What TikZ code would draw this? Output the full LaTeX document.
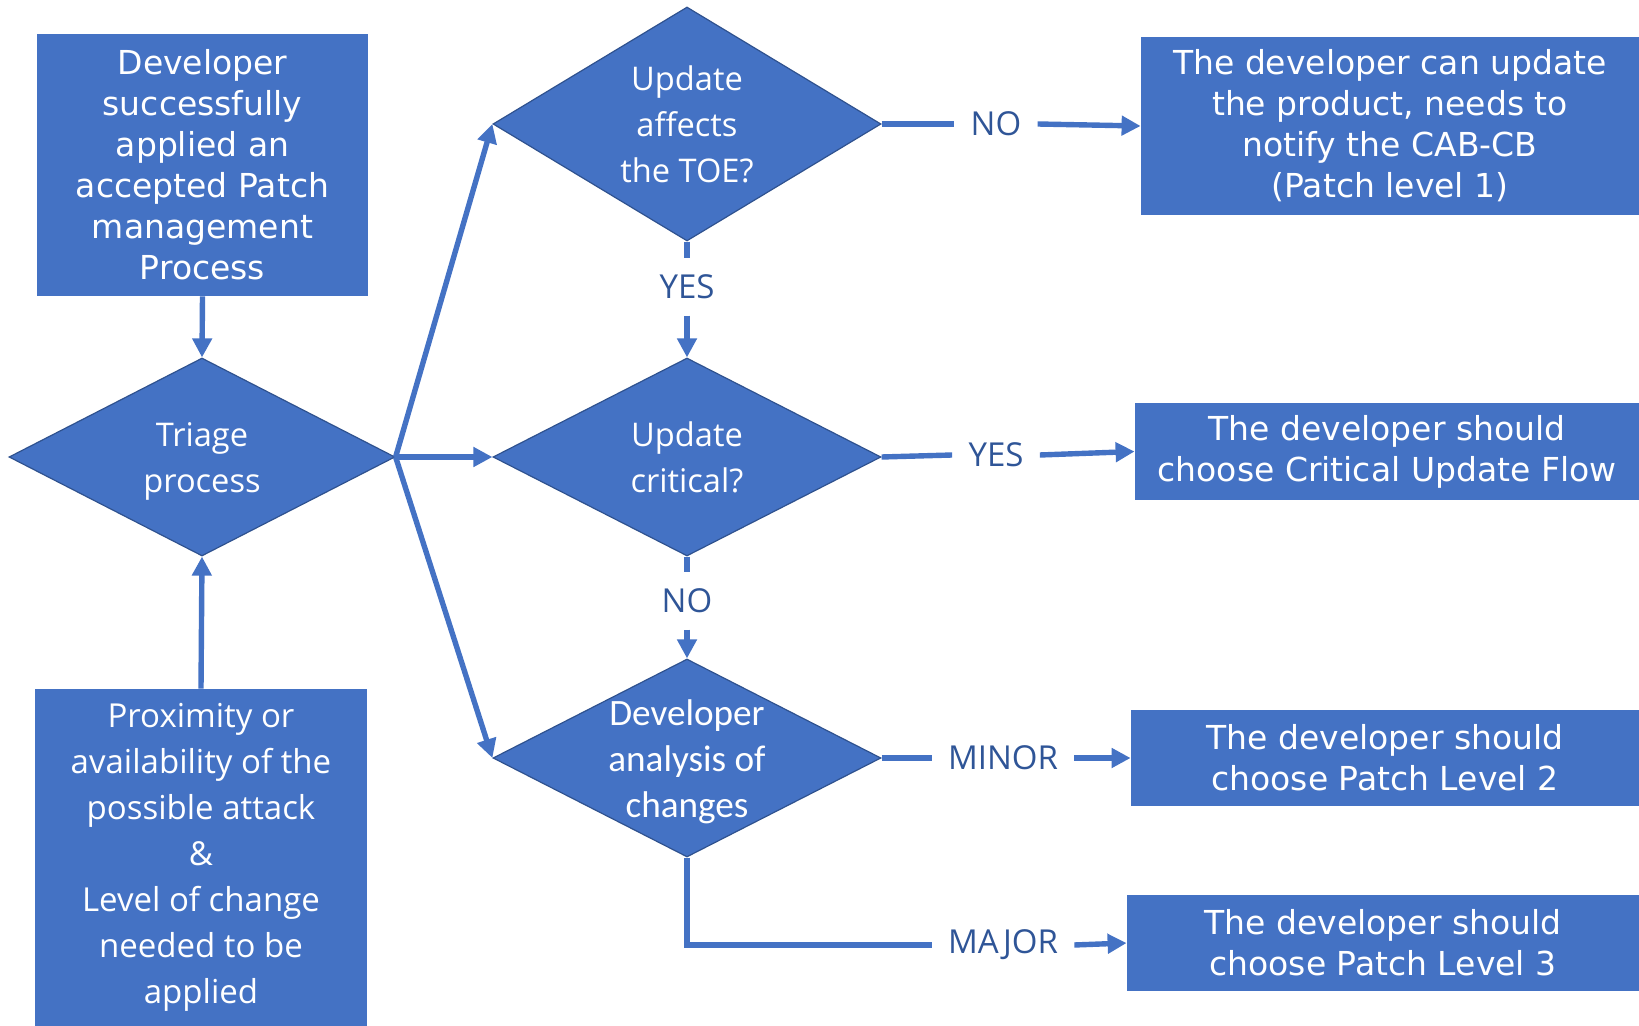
\documentclass[tikz,border=0pt]{standalone}
\usepackage{fontspec}
\setmainfont{DejaVu Sans}
\newfontfamily\segoefont{Open Sans}
\newfontfamily\narrowfont{Carlito}
\usepackage{tikz}
\usetikzlibrary{arrows.meta,positioning,shapes.geometric,calc}
\definecolor{FlowBlue}{HTML}{4472C4}
\definecolor{FlowEdge}{HTML}{2F528F}
\definecolor{FlowInk}{HTML}{2F5597}
\tikzset{
  patchbox/.style={draw=none,fill=FlowBlue,text=white,align=center,inner sep=0pt,font=\fontsize{16.5pt}{20.5pt}\selectfont},
  decision/.style={diamond,aspect=2,fill=FlowBlue,draw=FlowEdge,line width=0.6pt,inner sep=0pt,minimum width=194pt},
  dtext/.style={text=white,align=center,inner sep=0pt,font=\segoefont\fontsize{16.3pt}{23pt}\selectfont},
  branchlabel/.style={text=FlowInk,inner sep=8pt,font=\segoefont\fontsize{16.5pt}{20pt}\selectfont},
  flowline/.style={line width=2.7pt,draw=FlowBlue},
  flowarrow/.style={flowline,-{Triangle[length=9.5pt,width=9.5pt]}}
}

\begin{document}
\begin{tikzpicture}[x=0.5pt,y=-0.5pt]
\useasboundingbox (0,0) rectangle (1639,1026);

\node[patchbox,minimum width=165.5pt,minimum height=131pt] (accepted) at (202.5,165) {Developer\\successfully\\applied an\\accepted Patch\\management\\Process};
\node[decision,minimum width=193pt,minimum height=99pt] (triage) at (202,457) {};
\node[dtext,yshift=-2pt] at (triage) {Triage\\process};
\node[patchbox,minimum width=166pt,minimum height=168.5pt,font=\segoefont\fontsize{16.5pt}{23pt}\selectfont] (proximity) at (201,857.5) {Proximity or\\availability of the\\possible attack\\\&\\Level of change\\needed to be\\applied};

\node[decision,minimum height=117pt] (affects) at (687,124) {};
\node[dtext] at (affects) {Update\\affects\\the TOE?};
\node[decision,minimum height=99pt] (critical) at (687,457) {};
\node[dtext] at (critical) {Update\\critical?};
\node[decision,minimum height=99pt] (analysis) at (687,758) {};
\node[dtext,yshift=-2pt,font=\narrowfont\fontsize{18.6pt}{23pt}\selectfont] at (analysis) {Developer\\analysis of\\changes};

\node[patchbox,minimum width=249pt,minimum height=89.2pt] (levelone) at (1390,126) {The developer can update\\the product, needs to\\notify the CAB-CB\\(Patch level 1)};
\node[patchbox,minimum width=252pt,minimum height=48.5pt] (critflow) at (1387,451.5) {The developer should\\choose Critical Update Flow};
\node[patchbox,minimum width=254pt,minimum height=48pt] (leveltwo) at (1385,758) {The developer should\\choose Patch Level 2};
\node[patchbox,minimum width=256pt,minimum height=48pt] (levelthree) at (1383,943) {The developer should\\choose Patch Level 3};

\node[branchlabel] (noaffect) at (996,124) {NO};
\node[branchlabel] (yescrit) at (996,455) {YES};
\node[branchlabel] (minor) at (1003,758) {MINOR};
\node[branchlabel] (major) at (1003,945) {MAJOR};
\node[branchlabel] (yesdown) at (687,287) {YES};
\node[branchlabel] (nodown) at (687,601) {NO};

% triage inputs
\draw[flowarrow] (accepted.south) -- (triage.north);
\draw[flowarrow] (proximity.north) -- (triage.south);
% triage outputs
\draw[flowarrow] (triage.east) -- (affects.west);
\draw[flowarrow] (triage.east) -- (critical.west);
\draw[flowarrow] (triage.east) -- (analysis.west);
% decisions
\draw[flowline] (affects.east) -- (noaffect.west);
\draw[flowarrow] (noaffect.east) -- (levelone.west);
\draw[flowline] (affects.south) -- (yesdown.north);
\draw[flowarrow] (yesdown.south) -- (critical.north);
\draw[flowline] (critical.east) -- (yescrit.west);
\draw[flowarrow] (yescrit.east) -- (critflow.west);
\draw[flowline] (critical.south) -- (nodown.north);
\draw[flowarrow] (nodown.south) -- (analysis.north);
\draw[flowline] (analysis.east) -- (minor.west);
\draw[flowarrow] (minor.east) -- (leveltwo.west);
\draw[flowline] (analysis.south) |- (major.west);
\draw[flowarrow] (major.east) -- (levelthree.west);
\end{tikzpicture}
\end{document}
